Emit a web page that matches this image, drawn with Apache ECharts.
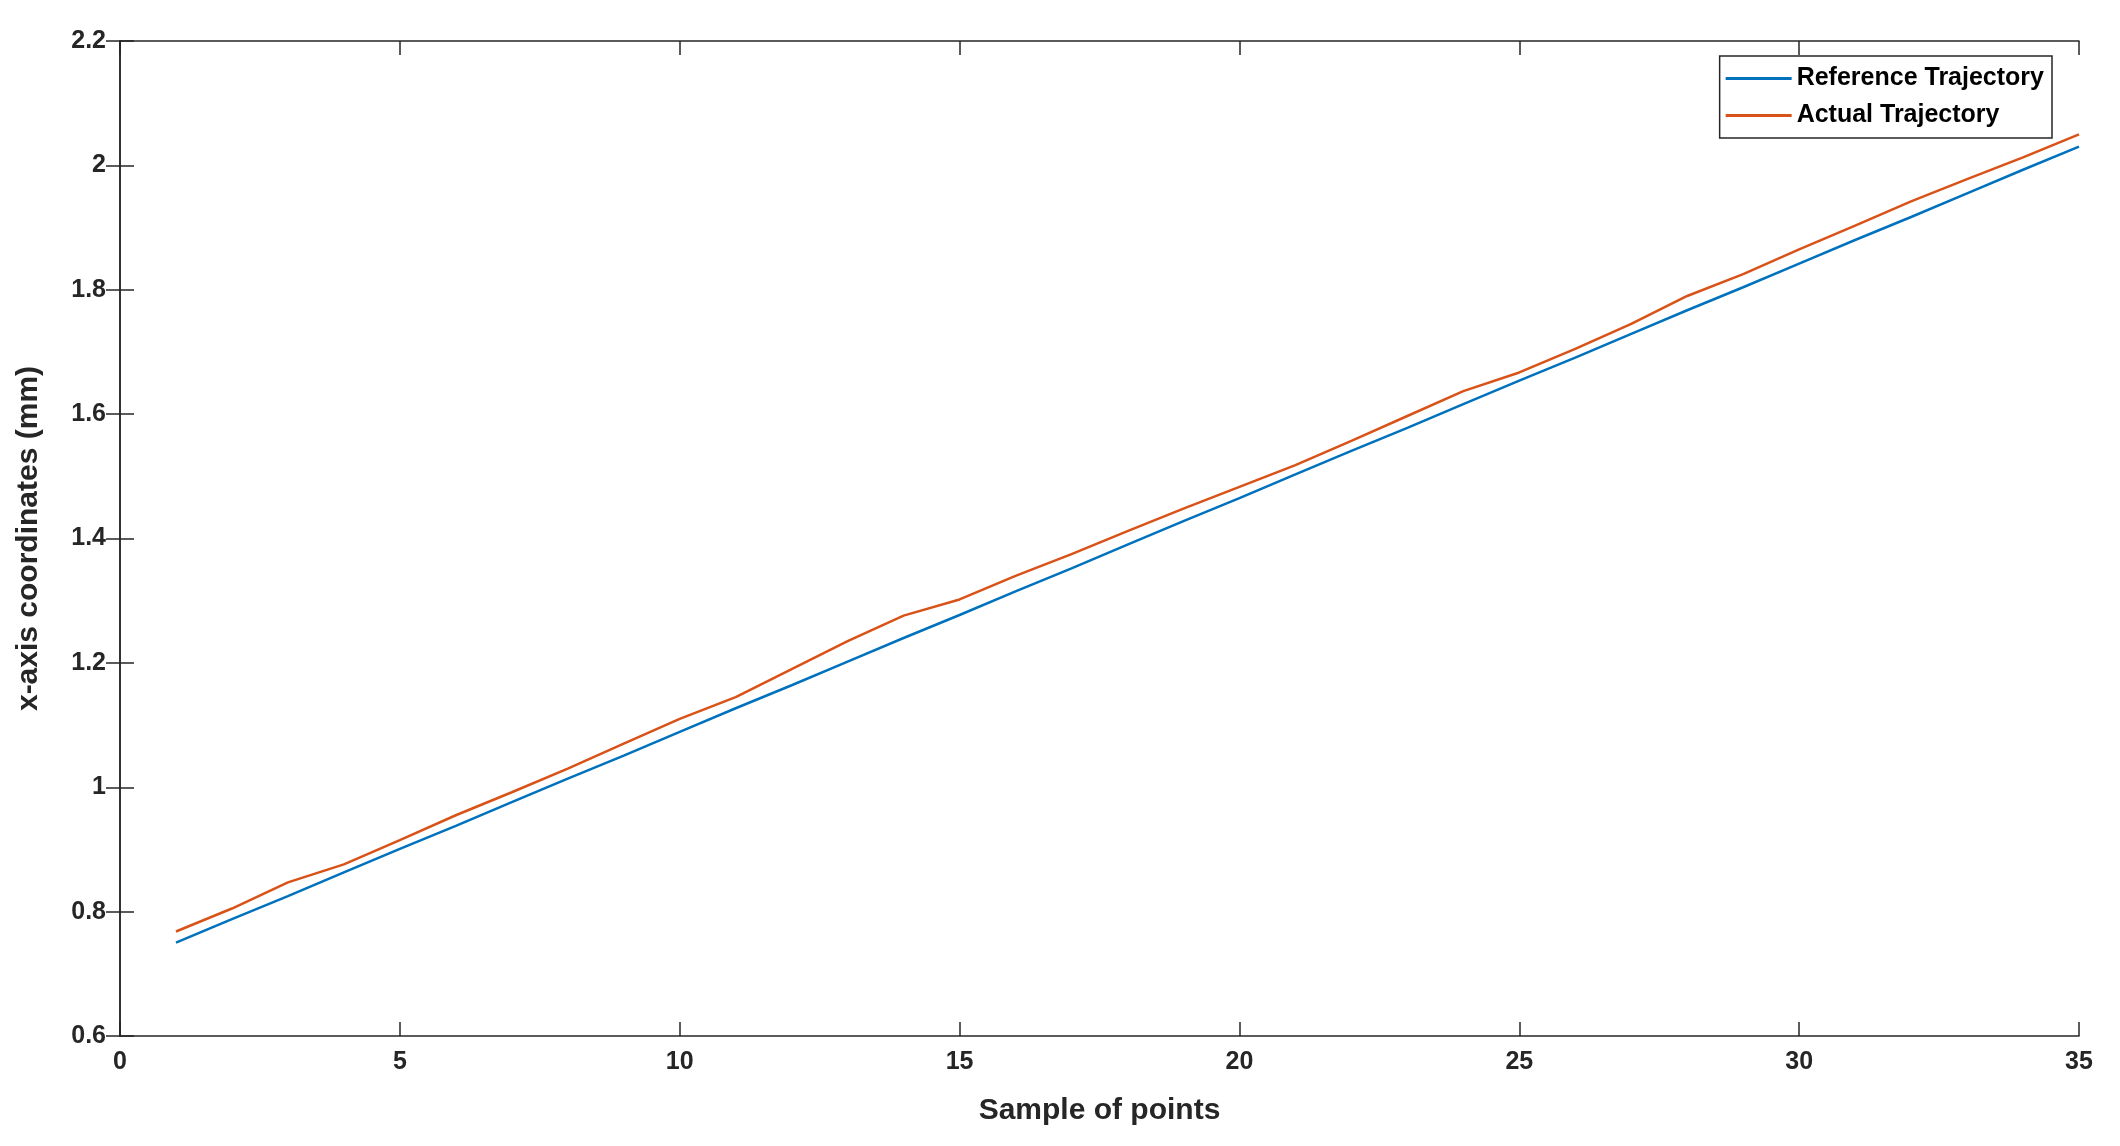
<!DOCTYPE html>
<html lang="en">
<head>
    <meta charset="UTF-8">
    <title>Trajectory</title>
    <script src="https://cdn.jsdelivr.net/npm/echarts@6/dist/echarts.min.js"></script>
</head>
<body style="margin:0">
    <div id="main" style="width: 2120px;height:1146px;"></div>
    <script type="text/javascript">
        var samples = [1,2,3,4,5,6,7,8,9,10,11,12,13,14,15,16,17,18,19,20,21,22,23,24,25,26,27,28,29,30,31,32,33,34,35];
        var referenceValues = [0.750,0.788,0.825,0.863,0.901,0.938,0.976,1.014,1.051,1.089,1.127,1.164,1.202,1.240,1.277,1.315,1.352,1.390,1.428,1.465,1.503,1.541,1.578,1.616,1.654,1.691,1.729,1.767,1.804,1.842,1.880,1.917,1.955,1.993,2.030];
        var actualValues = [0.768,0.805,0.847,0.876,0.915,0.955,0.992,1.030,1.070,1.110,1.145,1.190,1.235,1.276,1.302,1.340,1.375,1.412,1.448,1.483,1.518,1.557,1.597,1.637,1.667,1.705,1.745,1.790,1.825,1.865,1.903,1.942,1.978,2.013,2.050];

        function pairs(vals) {
            return samples.map(function (s, i) { return [s, vals[i]]; });
        }

        var chart = echarts.init(document.getElementById('main'));
        var font = 'Arial, "Liberation Sans", sans-serif';
        var lbl = { color: '#262626', fontSize: 25, fontFamily: font, fontWeight: 'bold' };
        var tick = { show: true, inside: true, length: 14, lineStyle: { color: '#262626', width: 1.5 } };
        var axLine = { show: true, lineStyle: { color: '#262626', width: 1.5 } };

        chart.setOption({
            backgroundColor: '#fff',
            animation: false,
            grid: { left: 120, right: 41, top: 41, bottom: 110 },
            legend: {
                right: 68, top: 56, orient: 'vertical',
                itemWidth: 66, itemHeight: 3, itemGap: 12,
                padding: [10, 8, 10, 6],
                borderColor: '#262626', borderWidth: 1.5, backgroundColor: '#fff',
                textStyle: { fontSize: 25, fontWeight: 'bold', color: '#000', fontFamily: font },
                icon: 'rect',
                data: ['Reference Trajectory', 'Actual Trajectory']
            },
            xAxis: [{
                type: 'value', min: 0, max: 35, interval: 5,
                name: 'Sample of points', nameLocation: 'middle', nameGap: 60,
                nameTextStyle: { fontSize: 30, fontWeight: 'bold', color: '#262626', fontFamily: font },
                axisLine: axLine, axisTick: tick, splitLine: { show: false },
                axisLabel: Object.assign({ margin: 14 }, lbl)
            }, {
                type: 'value', min: 0, max: 35, interval: 5, position: 'top',
                axisLine: axLine, axisTick: tick, axisLabel: { show: false }, splitLine: { show: false }
            }],
            yAxis: [{
                type: 'value', min: 0.6, max: 2.2, interval: 0.2,
                name: 'x-axis coordinates (mm)', nameLocation: 'middle', nameGap: 76,
                nameTextStyle: { fontSize: 30, fontWeight: 'bold', color: '#262626', fontFamily: font },
                axisLine: axLine, axisTick: tick, splitLine: { show: false },
                axisLabel: Object.assign({ margin: 14, formatter: function (v) { return +v.toFixed(1) + ''; } }, lbl)
            }, {
                type: 'value', min: 0.6, max: 2.2, interval: 0.2, position: 'right',
                axisLine: axLine, axisTick: tick, axisLabel: { show: false }, splitLine: { show: false }
            }],
            series: [{
                name: 'Reference Trajectory', type: 'line', data: pairs(referenceValues),
                showSymbol: false, color: '#0072BD', lineStyle: { width: 2.5 }
            }, {
                name: 'Actual Trajectory', type: 'line', data: pairs(actualValues),
                showSymbol: false, color: '#D95319', lineStyle: { width: 2.5 }
            }]
        });
    </script>
</body>
</html>
